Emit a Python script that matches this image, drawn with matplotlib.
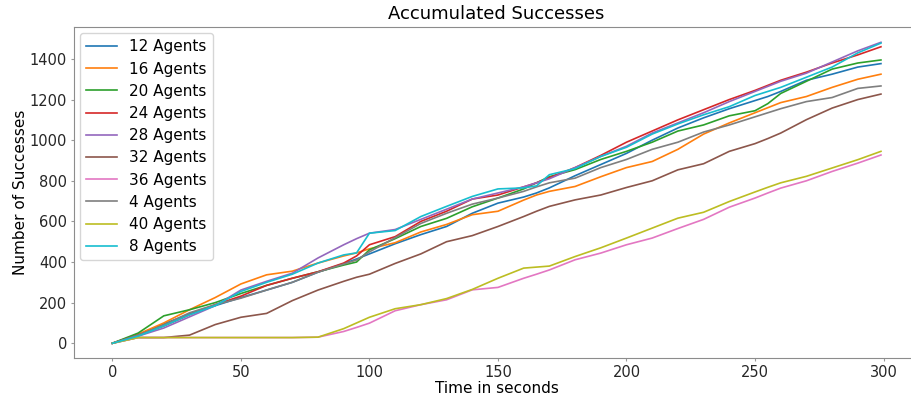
import numpy as np
import matplotlib
matplotlib.use("Agg")
import matplotlib.pyplot as plt

t = [0, 10, 20, 30, 40, 50, 60, 70, 80, 90, 95, 100, 110, 120, 130, 140, 150,
     160, 165, 170, 180, 190, 200, 210, 220, 230, 240, 250, 255, 260, 270, 280, 290, 299]

a12 = [0, 40, 95, 145, 185, 225, 262, 300, 350, 392, 415, 440, 490, 535, 575, 640, 690,
       720, 740, 765, 825, 880, 935, 1000, 1060, 1110, 1155, 1195, 1215, 1240, 1295, 1325, 1360, 1377]
a16 = [0, 45, 100, 165, 225, 292, 337, 355, 395, 430, 445, 465, 495, 548, 585, 633, 650,
       705, 730, 748, 772, 820, 865, 895, 955, 1030, 1085, 1135, 1160, 1185, 1215, 1260, 1300, 1325]
a20 = [0, 50, 135, 165, 200, 245, 285, 320, 352, 385, 400, 460, 515, 575, 615, 672, 715,
       760, 790, 820, 855, 905, 945, 990, 1045, 1075, 1120, 1145, 1180, 1230, 1290, 1350, 1380, 1395]
a24 = [0, 40, 85, 140, 190, 232, 285, 320, 352, 395, 430, 485, 525, 600, 650, 710, 730,
       770, 790, 815, 865, 925, 990, 1045, 1100, 1150, 1200, 1245, 1270, 1295, 1335, 1380, 1420, 1460]
a28 = [0, 35, 75, 130, 185, 262, 305, 345, 420, 485, 515, 542, 560, 610, 660, 710, 740,
       770, 790, 810, 865, 920, 970, 1035, 1085, 1135, 1190, 1240, 1265, 1290, 1330, 1385, 1440, 1482]
a32 = [0, 28, 28, 40, 92, 128, 147, 210, 262, 305, 325, 340, 393, 440, 500, 530, 575,
       624, 650, 674, 706, 730, 767, 800, 854, 884, 945, 983, 1008, 1035, 1101, 1158, 1200, 1227]
a36 = [0, 28, 28, 28, 28, 28, 28, 28, 30, 58, 78, 99, 160, 190, 214, 263, 275,
       320, 340, 361, 411, 444, 485, 518, 565, 610, 670, 715, 740, 764, 800, 846, 887, 927]
a4 = [0, 40, 90, 150, 190, 222, 262, 300, 350, 390, 410, 450, 520, 590, 640, 685, 715,
      748, 770, 790, 813, 865, 905, 955, 990, 1040, 1075, 1115, 1135, 1155, 1190, 1210, 1255, 1267]
a40 = [0, 28, 28, 28, 28, 28, 28, 28, 30, 72, 100, 128, 170, 190, 220, 265, 320,
       370, 375, 380, 427, 470, 518, 567, 616, 645, 698, 745, 768, 790, 822, 863, 904, 945]
a8 = [0, 35, 85, 140, 185, 255, 300, 340, 395, 435, 445, 542, 555, 624, 674, 723, 760,
      765, 775, 830, 860, 920, 965, 1030, 1080, 1125, 1165, 1220, 1240, 1260, 1310, 1360, 1430, 1478]

labels = ["12 Agents", "16 Agents", "20 Agents", "24 Agents", "28 Agents",
          "32 Agents", "36 Agents", "4 Agents", "40 Agents", "8 Agents"]
series = [a12, a16, a20, a24, a28, a32, a36, a4, a40, a8]

fig = plt.figure(figsize=(9.12, 3.96), dpi=100)
ax = fig.add_axes([0.0811, 0.0952, 0.927, 0.836])

for s, lab in zip(series, labels):
    ax.plot(t, s, label=lab, linewidth=1.2)

ax.set_title("Accumulated Successes", fontsize=13)
ax.set_xlabel("Time in seconds", fontsize=11, labelpad=0.5)
ax.set_ylabel("Number of Successes", fontsize=11, labelpad=1)
ax.tick_params(labelsize=10.5, labelcolor="0.15", length=2.5, pad=2.5, color="0.6")
for sp in ax.spines.values():
    sp.set_color("0.55")
ax.spines["right"].set_visible(False)
ax.legend(loc="upper left", fontsize=11, frameon=True, labelspacing=0.47,
          borderaxespad=0.4)

fig.savefig("out.png", dpi=100)
